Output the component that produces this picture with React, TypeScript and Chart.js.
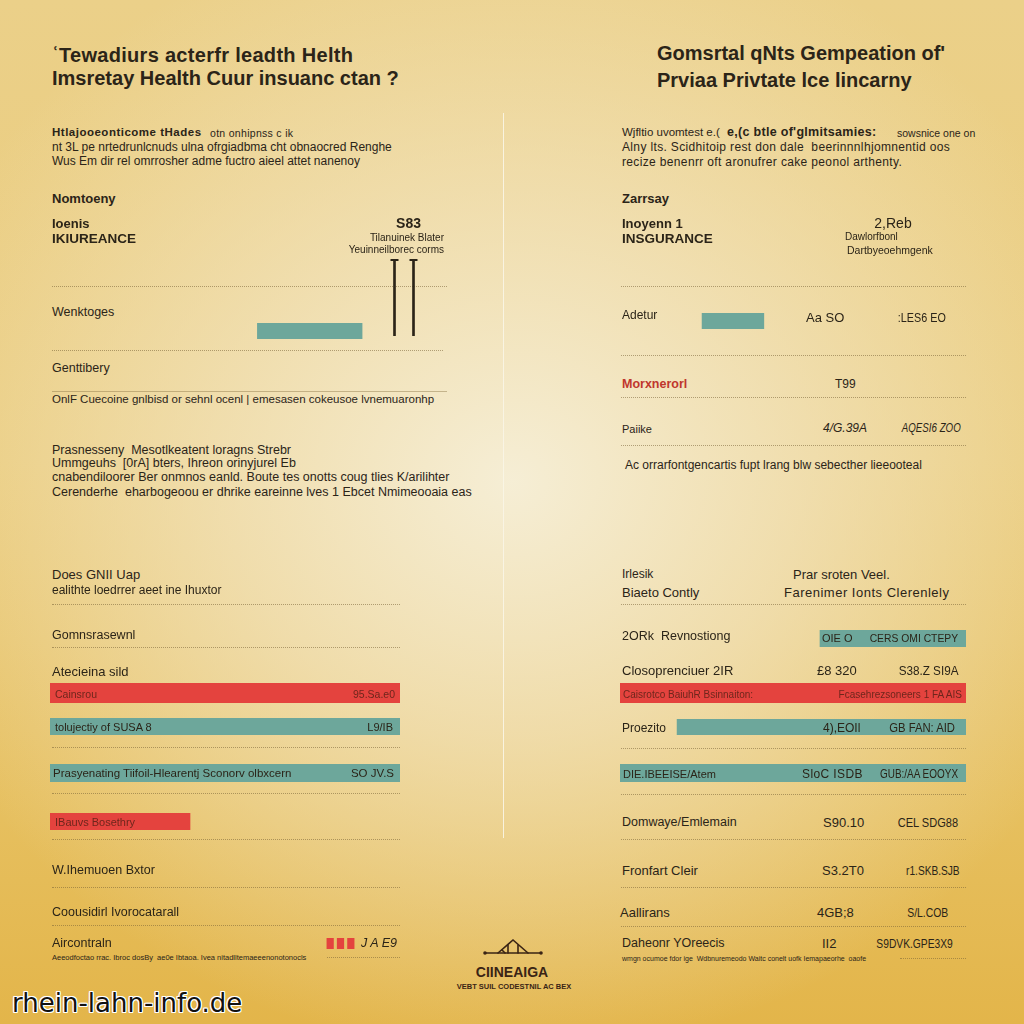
import React, { useEffect, useRef } from "react";
import { Chart, registerables } from "chart.js";

Chart.register(...registerables);

// ---------- palette ----------
const RED = "#e4433e";
const TEAL = "#6da79b";
const INK = "#2b2418";
const BAR_INK_RED = "#6e261c";

// ---------- chart data ----------
// top-left panel: one teal range bar (percent of panel width)
const leftTopCategories = ["Wenktoges"];
const leftTopRanges: [number, number][] = [[52, 78.5]];
// top-left panel: two vertical markers with caps
const markerCategories = ["Tilanuinek Blater", "Yeuinneilborec corms"];
const markerLows = [0, 0];
const markerHighs = [100, 100];
// top-right panel: one teal range bar
const rightTopCategories = ["Adetur"];
const rightTopRanges: [number, number][] = [[23.5, 41.4]];
// bottom-left bar list
const leftBarLabels = ["Cainsrou", "tolujectiy of SUSA 8", "Prasyenating Tiifoil-Hlearentj Sconorv olbxcern", "IBauvs Bosethry"];
const leftBarValues = [100, 100, 100, 40];
const leftBarValueLabels = ["95.Sa.e0", "L9/IB", "SO JV.S", ""];
const leftBarColors = [RED, TEAL, TEAL, RED];
// bottom-right bar list (start / end)
const rightBarLabels = ["2ORk  Revnostiong", "Caisrotco BaiuhR Bsinnaiton:", "Proezito", "DIE.IBEEISE/Atem"];
const rightBarStarts = [57.8, 0, 16.5, 0];
const rightBarEnds = [100, 100, 100, 100];
const rightBarColors = [TEAL, RED, TEAL, TEAL];
// rating blocks next to "Aircontraln"
const ratingLabels = ["I", "II", "III"];
const ratingBlocks = [1, 1, 1];

// ---------- layout (positions only) ----------
const leftBarRows = [
  { top: 683, height: 20 },
  { top: 718, height: 17 },
  { top: 764, height: 18 },
  { top: 813, height: 17 },
];
const rightBarRows = [
  { top: 630, height: 17 },
  { top: 683, height: 20 },
  { top: 719, height: 16 },
  { top: 764, height: 18 },
];

const baseOptions = (extra: any) => ({
  responsive: false,
  animation: false,
  events: [],
  layout: { padding: 0 },
  plugins: { legend: { display: false }, tooltip: { enabled: false }, title: { display: false } },
  ...extra,
});

const hbarConfig = (labels: string[], ranges: [number, number][], colors: string[]) => () => ({
  type: "bar",
  data: {
    labels,
    datasets: [
      {
        data: ranges,
        backgroundColor: colors,
        borderWidth: 0,
        barPercentage: 1,
        categoryPercentage: 1,
      },
    ],
  },
  options: baseOptions({
    indexAxis: "y",
    scales: {
      x: { display: false, min: 0, max: 100 },
      y: { display: false },
    },
  }),
});

const markerConfig = () => ({
  type: "bar",
  data: {
    labels: markerCategories,
    datasets: [
      {
        type: "bar",
        data: markerLows.map((l, i) => [l, markerHighs[i]]),
        backgroundColor: INK,
        borderWidth: 0,
        barThickness: 2,
      },
      {
        type: "line",
        data: markerHighs,
        showLine: false,
        clip: false,
        pointStyle: "line",
        pointRadius: 4,
        pointBorderWidth: 2,
        pointBorderColor: INK,
        borderColor: INK,
      },
    ],
  },
  options: baseOptions({
    layout: { padding: { top: 4 } },
    scales: {
      x: { display: false },
      y: { display: false, min: 0, max: 100 },
    },
  }),
});

const ratingConfig = () => ({
  type: "bar",
  data: {
    labels: ratingLabels,
    datasets: [
      {
        data: ratingBlocks,
        backgroundColor: RED,
        borderWidth: 0,
        barPercentage: 0.7,
        categoryPercentage: 1,
      },
    ],
  },
  options: baseOptions({
    scales: {
      x: { display: false },
      y: { display: false, min: 0, max: 1 },
    },
  }),
});

function MiniChart(props: { left: number; top: number; width: number; height: number; make: () => any }) {
  const ref = useRef<HTMLCanvasElement | null>(null);
  useEffect(() => {
    const chart = new Chart(ref.current as HTMLCanvasElement, props.make() as any);
    return () => chart.destroy();
  }, []);
  return (
    <canvas
      ref={ref}
      width={props.width}
      height={props.height}
      style={{ position: "absolute", left: props.left, top: props.top, width: props.width, height: props.height }}
    />
  );
}

type TI = { x: number; y: number; s: number; t: string; b?: boolean; a?: "r" | "c"; c?: string; i?: boolean; ls?: number; sx?: number };

const texts: TI[] = [
  // left header
  { x: 52, y: 62, s: 20, b: true, t: "\u02BFTewadiurs acterfr leadth Helth", ls: 0.3 },
  { x: 52, y: 85, s: 20, b: true, t: "Imsretay Health Cuur insuanc ctan ?" },
  { x: 52, y: 137, s: 11.5, b: true, t: "Htlajooeonticome tHades", ls: 0.5 },
  { x: 210, y: 137, s: 10.5, t: "otn onhipnss c ik", ls: 0.3 },
  { x: 52, y: 151, s: 12, t: "nt 3L pe nrtedrunlcnuds ulna ofrgiadbma cht obnaocred Renghe" },
  { x: 52, y: 165, s: 12, t: "Wus Em dir rel omrrosher adme fuctro aieel attet nanenoy" },
  { x: 52, y: 203, s: 13, b: true, t: "Nomtoeny" },
  { x: 52, y: 228, s: 13, b: true, t: "Ioenis" },
  { x: 52, y: 243, s: 13.5, b: true, t: "IKIUREANCE" },
  { x: 421, y: 228, s: 14, b: true, a: "r", t: "S83" },
  { x: 444, y: 241, s: 10, a: "r", t: "Tilanuinek Blater" },
  { x: 444, y: 253, s: 10, a: "r", t: "Yeuinneilborec corms" },
  { x: 52, y: 317, s: 12.5, t: leftTopCategories[0] },
  { x: 52, y: 373, s: 12.5, t: "Genttibery" },
  { x: 52, y: 404, s: 11.5, t: "OnlF Cuecoine gnlbisd or sehnl ocenl | emesasen cokeusoe lvnemuaronhp" },
  { x: 52, y: 455, s: 12.5, t: "Prasnesseny  Mesotlkeatent loragns Strebr" },
  { x: 52, y: 468, s: 12.5, t: "Ummgeuhs  [0rA] bters, Ihreon orinyjurel Eb" },
  { x: 52, y: 482, s: 12.5, t: "cnabendiloorer Ber onmnos eanld. Boute tes onotts coug tlies K/arilihter" },
  { x: 52, y: 497, s: 12.5, t: "Cerenderhe  eharbogeoou er dhrike eareinne lves 1 Ebcet Nmimeooaia eas" },
  // left bottom
  { x: 52, y: 579, s: 13, t: "Does GNII Uap" },
  { x: 52, y: 594, s: 12, t: "ealithte loedrrer aeet ine Ihuxtor" },
  { x: 52, y: 640, s: 12.5, t: "Gomnsrasewnl" },
  { x: 52, y: 676, s: 13, t: "Atecieina sild" },
  { x: 55, y: 698, s: 10.5, c: BAR_INK_RED, t: leftBarLabels[0] },
  { x: 395, y: 698, s: 10.5, a: "r", c: BAR_INK_RED, t: leftBarValueLabels[0] },
  { x: 55, y: 731, s: 11, t: leftBarLabels[1] },
  { x: 393, y: 731, s: 11, a: "r", t: leftBarValueLabels[1] },
  { x: 53, y: 778, s: 11.5, t: leftBarLabels[2] },
  { x: 394, y: 778, s: 11.5, a: "r", t: leftBarValueLabels[2] },
  { x: 55, y: 826, s: 11, c: BAR_INK_RED, t: leftBarLabels[3] },
  { x: 52, y: 875, s: 12.5, t: "W.Ihemuoen Bxtor" },
  { x: 52, y: 917, s: 12.5, t: "Coousidirl Ivorocatarall" },
  { x: 52, y: 948, s: 12.5, t: "Aircontraln" },
  { x: 397, y: 948, s: 12.5, a: "r", i: true, t: "J A E9" },
  { x: 52, y: 960, s: 7.5, t: "Aeeodfoctao rrac. Ibroc dosBy  ae0e Ibtaoa. Ivea nitadlltemaeeenonotonocls" },
  // right header
  { x: 657, y: 60, s: 20, b: true, t: "Gomsrtal qNts Gempeation of'" },
  { x: 657, y: 87, s: 20, b: true, t: "Prviaa Privtate lce lincarny" },
  { x: 622, y: 137, s: 11.5, t: "Wjfltio uvomtest e.(" },
  { x: 727, y: 137, s: 12.5, b: true, t: "e,(c btle of'glmitsamies:", ls: 0.3 },
  { x: 897, y: 137, s: 10.5, t: "sowsnice one on" },
  { x: 622, y: 151, s: 12, ls: 0.35, t: "Alny lts. Scidhitoip rest don dale  beerinnnlhjomnentid oos" },
  { x: 622, y: 166, s: 12, ls: 0.35, t: "recize benenrr oft aronufrer cake peonol arthenty." },
  { x: 622, y: 203, s: 13, b: true, t: "Zarrsay" },
  { x: 622, y: 228, s: 13, b: true, t: "Inoyenn 1" },
  { x: 622, y: 243, s: 13.5, b: true, t: "INSGURANCE" },
  { x: 893, y: 228, s: 14, a: "c", t: "2,Reb" },
  { x: 845, y: 240, s: 10, t: "Dawlorfbonl" },
  { x: 847, y: 254, s: 10.5, t: "Dartbyeoehmgenk" },
  { x: 622, y: 319, s: 12, t: rightTopCategories[0] },
  { x: 806, y: 322, s: 13, t: "Aa SO" },
  { x: 946, y: 322, s: 13, a: "r", sx: 0.83, t: ":LES6 EO" },
  { x: 622, y: 389, s: 12.5, b: true, c: "#c0362d", t: "Morxnerorl" },
  { x: 835, y: 388, s: 12, t: "T99" },
  { x: 622, y: 433, s: 11, t: "Paiike" },
  { x: 823, y: 432, s: 12, i: true, t: "4/G.39A" },
  { x: 961, y: 432, s: 12, a: "r", i: true, sx: 0.81, t: "AQESI6 ZOO" },
  { x: 625, y: 469, s: 12, t: "Ac orrarfontgencartis fupt lrang blw sebecther lieeooteal" },
  // right bottom
  { x: 622, y: 578, s: 12, t: "Irlesik" },
  { x: 622, y: 597, s: 13, t: "Biaeto Contly" },
  { x: 793, y: 579, s: 13, t: "Prar sroten Veel." },
  { x: 784, y: 597, s: 13, ls: 0.5, t: "Farenimer Ionts Clerenlely" },
  { x: 622, y: 641, s: 12.5, t: rightBarLabels[0] },
  { x: 822, y: 642, s: 11, t: "OIE O" },
  { x: 958, y: 642, s: 11, a: "r", sx: 0.94, t: "CERS OMI CTEPY" },
  { x: 622, y: 675, s: 13, t: "Closoprenciuer 2IR" },
  { x: 817, y: 675, s: 13, t: "\u00A38 320" },
  { x: 958, y: 675, s: 13, a: "r", sx: 0.9, t: "S38.Z SI9A" },
  { x: 623, y: 698, s: 10, c: BAR_INK_RED, t: rightBarLabels[1] },
  { x: 962, y: 698, s: 10, a: "r", c: BAR_INK_RED, t: "Fcasehrezsoneers 1 FA AIS" },
  { x: 622, y: 732, s: 12, t: rightBarLabels[2] },
  { x: 823, y: 732, s: 12, t: "4),EOIl" },
  { x: 955, y: 732, s: 12, a: "r", sx: 0.94, t: "GB FAN: AID" },
  { x: 623, y: 778, s: 11, t: rightBarLabels[3] },
  { x: 802, y: 778, s: 12, ls: 0.4, t: "SloC ISDB" },
  { x: 958, y: 778, s: 12, a: "r", sx: 0.83, t: "GUB:/AA EOOYX" },
  { x: 622, y: 827, s: 12.5, t: "Domwaye/Emlemain" },
  { x: 823, y: 827, s: 13, t: "S90.10" },
  { x: 958, y: 827, s: 13, a: "r", sx: 0.85, t: "CEL SDG88" },
  { x: 622, y: 875, s: 13, t: "Fronfart Cleir" },
  { x: 822, y: 875, s: 13, t: "S3.2T0" },
  { x: 960, y: 875, s: 13, a: "r", sx: 0.78, t: "r1.SKB.SJB" },
  { x: 620, y: 917, s: 13, t: "Aallirans" },
  { x: 817, y: 917, s: 13, t: "4GB;8" },
  { x: 948, y: 917, s: 13, a: "r", sx: 0.8, t: "S/L.COB" },
  { x: 622, y: 948, s: 12.5, t: "Daheonr YOreecis" },
  { x: 822, y: 948, s: 13, t: "II2" },
  { x: 953, y: 948, s: 13, a: "r", sx: 0.79, t: "S9DVK.GPE3X9" },
  { x: 622, y: 961, s: 7, t: "wmgn ocumoe fdor ige  Wdbnuremeodo Waitc conelt uofk Iemapaeorhe  oaofe" },
  // centre logo text
  { x: 512, y: 977, s: 14, b: true, a: "c", c: "#3a2415", t: "CIINEAIGA" },
  { x: 514, y: 989, s: 7.5, b: true, a: "c", c: "#3a2415", t: "VEBT SUIL CODESTNIL AC BEX" },
];

// separators: [x1, x2, y, solid?]
const rules: [number, number, number, boolean?][] = [
  [52, 447, 286], [52, 443, 350], [52, 447, 391, true],
  [52, 400, 604], [52, 400, 647], [52, 400, 747], [52, 400, 793], [52, 400, 839], [52, 400, 887], [52, 400, 925], [327, 400, 957],
  [621, 966, 286], [621, 966, 355], [621, 966, 397], [621, 966, 445],
  [621, 966, 604], [621, 966, 748], [621, 966, 794], [621, 966, 839], [621, 966, 887], [621, 966, 926], [900, 966, 958],
];

function Txt({ d }: { d: TI }) {
  const top = d.y - 0.8465 * d.s;
  const style: React.CSSProperties = {
    position: "absolute",
    top,
    fontSize: d.s,
    lineHeight: `${d.s}px`,
    fontWeight: d.b ? 700 : 400,
    fontStyle: d.i ? "italic" : "normal",
    color: d.c || INK,
    whiteSpace: "pre",
    letterSpacing: d.ls ? `${d.ls}px` : undefined,
  };
  if (d.a === "r") {
    style.right = 1024 - d.x;
    if (d.sx) {
      style.transform = `scaleX(${d.sx})`;
      style.transformOrigin = "right center";
    }
  } else if (d.a === "c") {
    style.left = d.x;
    style.transform = "translateX(-50%)";
  } else {
    style.left = d.x;
    if (d.sx) {
      style.transform = `scaleX(${d.sx})`;
      style.transformOrigin = "left center";
    }
  }
  return <div style={style}>{d.t}</div>;
}

export default function App() {
  return (
    <div
      style={{
        position: "absolute",
        left: 0,
        top: 0,
        width: 1024,
        height: 1024,
        overflow: "hidden",
        fontFamily: "'Liberation Sans', Arial, sans-serif",
        background:
          "radial-gradient(ellipse 62% 56% at 50% 47%, rgba(246,239,216,0.97) 0%, rgba(243,230,196,0.7) 45%, rgba(240,222,170,0) 100%), linear-gradient(180deg, #ebd089 0%, #eacb7a 45%, #e6bf5e 80%, #e3b54a 100%)",
      }}
    >
      {/* centre divider */}
      <div style={{ position: "absolute", left: 503, top: 113, width: 1, height: 725, background: "rgba(250,245,230,0.9)" }} />

      {rules.map(([x1, x2, y, solid], i) => (
        <div
          key={"r" + i}
          style={{
            position: "absolute",
            left: x1,
            top: y,
            width: x2 - x1,
            height: 0,
            borderTop: solid ? "1px solid rgba(140,118,70,0.45)" : "1px dotted rgba(120,98,55,0.55)",
          }}
        />
      ))}

      {/* charts */}
      <MiniChart left={52} top={323} width={395} height={16} make={hbarConfig(leftTopCategories, leftTopRanges, [TEAL])} />
      <MiniChart left={379} top={254} width={50} height={88} make={markerConfig} />
      <MiniChart left={621} top={313} width={345} height={16} make={hbarConfig(rightTopCategories, rightTopRanges, [TEAL])} />
      {leftBarValues.map((v, i) => (
        <MiniChart
          key={"lb" + i}
          left={50}
          top={leftBarRows[i].top}
          width={350}
          height={leftBarRows[i].height}
          make={hbarConfig([leftBarLabels[i]], [[0, v]], [leftBarColors[i]])}
        />
      ))}
      {rightBarEnds.map((v, i) => (
        <MiniChart
          key={"rb" + i}
          left={620}
          top={rightBarRows[i].top}
          width={346}
          height={rightBarRows[i].height}
          make={hbarConfig([rightBarLabels[i]], [[rightBarStarts[i], v]], [rightBarColors[i]])}
        />
      ))}
      <MiniChart left={325} top={938} width={31} height={11} make={ratingConfig} />

      {texts.map((d, i) => (
        <Txt key={"t" + i} d={d} />
      ))}

      {/* centre logo mark */}
      <svg style={{ position: "absolute", left: 480, top: 934, width: 66, height: 24 }} viewBox="0 0 66 24">
        <g stroke="#3a2415" strokeWidth="1.6" fill="none" strokeLinecap="round">
          <line x1="5" y1="19" x2="61" y2="19" />
          <polyline points="18,19 33,6 48,19" />
          <line x1="28" y1="11" x2="28" y2="19" />
          <line x1="38" y1="11" x2="38" y2="19" />
          <line x1="22" y1="16" x2="25" y2="19" />
        </g>
        <circle cx="5" cy="19" r="1.8" fill="#3a2415" />
        <circle cx="61" cy="19" r="1.8" fill="#3a2415" />
      </svg>

      {/* watermark */}
      <div
        style={{
          position: "absolute",
          left: 12,
          top: 1014 - 0.93 * 26,
          fontSize: 26,
          lineHeight: "26px",
          color: "#111",
          whiteSpace: "pre",
          fontFamily: "'DejaVu Sans', 'Liberation Sans', sans-serif",
          textShadow:
            "1px 0 0 #fff, -1px 0 0 #fff, 0 1px 0 #fff, 0 -1px 0 #fff, 1px 1px 0 #fff, -1px -1px 0 #fff, 1px -1px 0 #fff, -1px 1px 0 #fff",
        }}
      >
        rhein-lahn-info.de
      </div>
    </div>
  );
}
